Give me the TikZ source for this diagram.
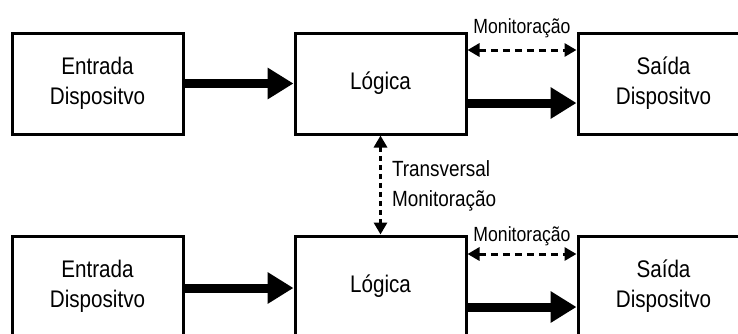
\documentclass[tikz,border=0pt]{standalone}
\usepackage{fontspec}
\setmainfont{Liberation Sans}[FakeStretch=0.86]
\usetikzlibrary{arrows.meta,positioning}

\tikzset{
  block/.style={draw, line width=3pt, minimum width=171pt, minimum height=101pt,
    inner sep=0pt, align=center, font=\fontsize{24}{30}\selectfont},
  flow/.style={line width=9pt, line cap=butt,
    -{Triangle[length=26pt,width=30pt]}},
  watch/.style={line width=3pt, line cap=butt, dash pattern=on 7pt off 5pt,
    {Triangle[length=12pt,width=13pt]}-{Triangle[length=12pt,width=13pt]}},
  cross/.style={line width=3pt, line cap=butt, dash pattern=on 5pt off 4pt,
    {Triangle[length=12pt,width=13pt]}-{Triangle[length=12pt,width=13pt]}},
  tag/.style={inner sep=0pt, font=\fontsize{20.5}{24}\selectfont},
  bigtag/.style={inner sep=0pt, align=left, font=\fontsize{22}{30}\selectfont}
}

\begin{document}
\begin{tikzpicture}[x=1pt,y=-1pt]
  \useasboundingbox (0,0) rectangle (738,333);
  \clip (0,0) rectangle (738,333);

  % upper channel
  \node[block] (in1) at (97.5,83.5) {Entrada\\Dispositvo};
  \node[block] (lg1) at (380.5,83.5) {Lógica};
  \node[block] (out1) at (663.5,83.5) {Saída\\Dispositvo};

  % lower channel
  \node[block] (in2) at (97.5,286.5) {Entrada\\Dispositvo};
  \node[block] (lg2) at (380.5,286.5) {Lógica};
  \node[block] (out2) at (663.5,286.5) {Saída\\Dispositvo};

  % signal flow
  \draw[flow] (in1.east) -- (lg1.west);
  \draw[flow] ([yshift=-19.5pt]lg1.east) -- ([yshift=-19.5pt]out1.west);
  \draw[flow] ([yshift=-1.5pt]in2.east) -- ([yshift=-1.5pt]lg2.west);
  \draw[flow] ([yshift=-20.5pt]lg2.east) -- ([yshift=-20.5pt]out2.west);

  % output monitoring
  \draw[watch] ([yshift=33.5pt]lg1.east) -- ([yshift=33.5pt]out1.west)
    node[tag, midway, yshift=22pt] {Monitoração};
  \draw[watch] ([yshift=32.5pt]lg2.east) -- ([yshift=32.5pt]out2.west)
    node[tag, midway, yshift=18pt] {Monitoração};

  % cross monitoring between the two logic units
  \draw[cross] (lg1.south) -- (lg2.north)
    node[bigtag, midway, anchor=west, xshift=10pt, yshift=-1pt] {Transversal\\Monitoração};
\end{tikzpicture}
\end{document}
